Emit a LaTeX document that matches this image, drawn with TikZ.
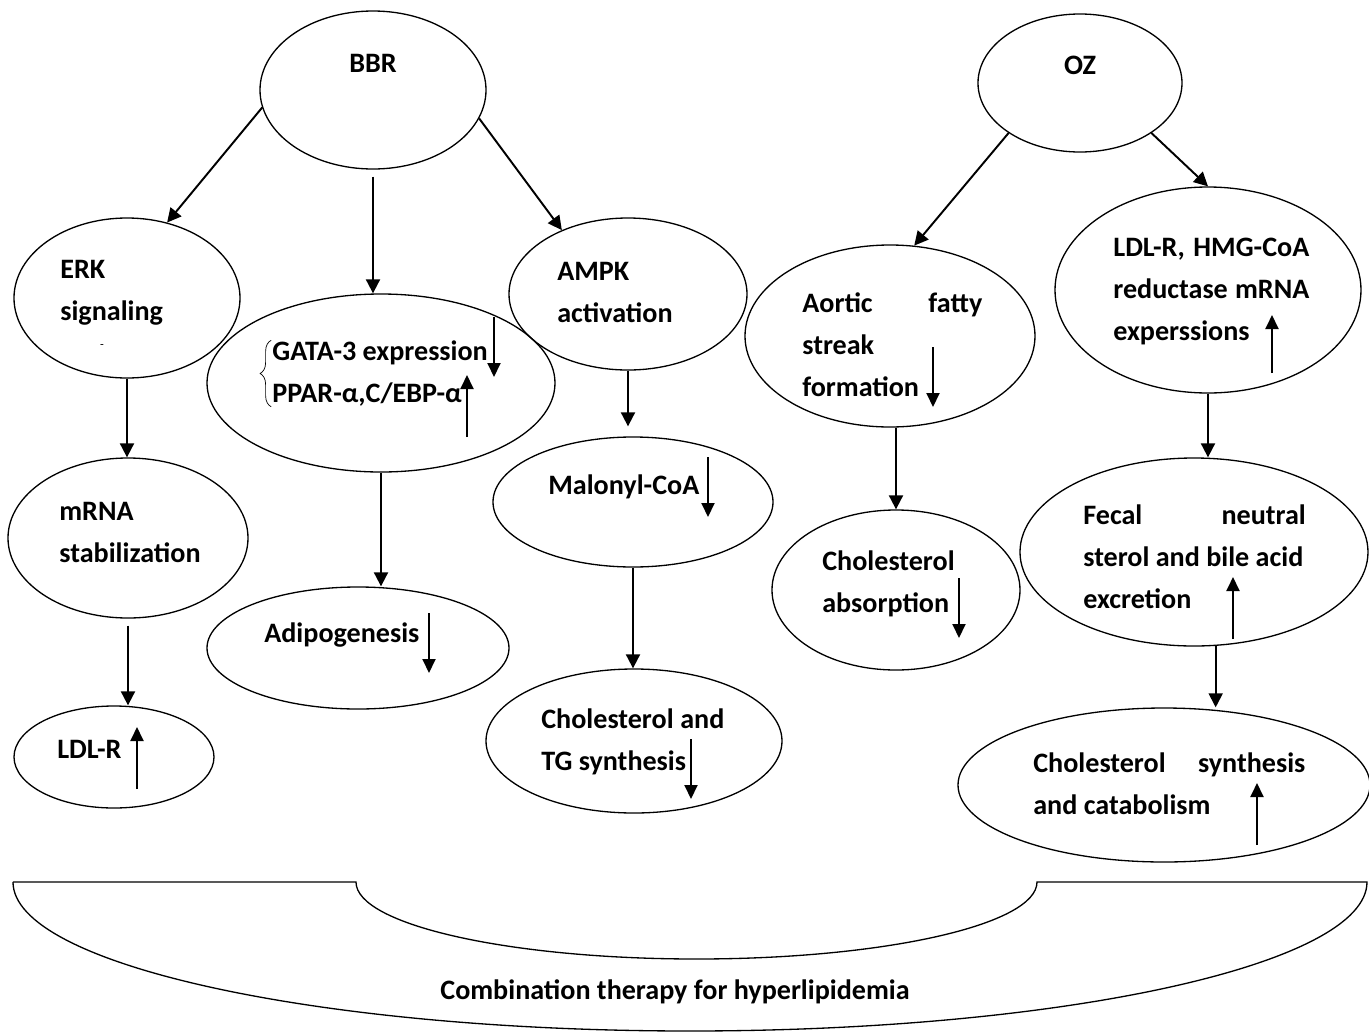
\documentclass[tikz,border=0pt]{standalone}
\usepackage{fontspec}
\setmainfont{Carlito}
\usetikzlibrary{arrows.meta,shapes.geometric,decorations.pathreplacing}
\newcommand{\spread}{\hskip 0pt plus 1filll\relax}

\begin{document}
\begin{tikzpicture}[
  font=\fontsize{16}{24}\selectfont\bfseries,
  oval/.style={draw, ellipse, line width=0.75pt, inner sep=0pt},
  txt/.style={align=flush left, inner sep=0pt, anchor=west},
  flow/.style={-{Triangle[length=2.8mm, width=2.8mm]}, line width=1.1pt},
  trend/.style={-{Triangle[length=2.8mm, width=2.6mm]}, line width=1.1pt}
]
\useasboundingbox (0,0) rectangle (27.38,-20.66);

% ellipses
\node[oval, minimum width=4.52cm, minimum height=3.16cm] (bbr) at (7.46,-1.80) {};
\node[oval, minimum width=4.08cm, minimum height=2.76cm] (oz) at (21.60,-1.66) {};
\node[oval, minimum width=4.52cm, minimum height=3.20cm] (erk) at (2.54,-5.96) {};
\node[oval, minimum width=6.96cm, minimum height=3.56cm] (gata) at (7.62,-7.66) {};
\node[oval, minimum width=4.76cm, minimum height=3.04cm] (ampk) at (12.56,-5.88) {};
\node[oval, minimum width=5.80cm, minimum height=3.64cm] (aortic) at (17.80,-6.72) {};
\node[oval, minimum width=6.12cm, minimum height=4.12cm] (hmg) at (24.16,-5.80) {};
\node[oval, minimum width=4.80cm, minimum height=3.20cm] (mrna) at (2.56,-10.76) {};
\node[oval, minimum width=5.60cm, minimum height=2.60cm] (malonyl) at (12.66,-10.04) {};
\node[oval, minimum width=4.96cm, minimum height=3.20cm] (cholabs) at (17.92,-11.80) {};
\node[oval, minimum width=6.96cm, minimum height=3.76cm] (fecal) at (23.88,-11.04) {};
\node[oval, minimum width=6.04cm, minimum height=2.44cm] (adipo) at (7.16,-12.96) {};
\node[oval, minimum width=4.00cm, minimum height=2.04cm] (ldlr) at (2.28,-15.14) {};
\node[oval, minimum width=5.92cm, minimum height=2.88cm] (choltg) at (12.68,-14.82) {};
\node[oval, minimum width=8.24cm, minimum height=3.08cm] (cholsyn) at (23.28,-15.70) {};

% texts
\node[inner sep=0pt] (bbr-t) at (7.46,-1.26) {BBR};
\node[inner sep=0pt] (oz-t) at (21.60,-1.30) {OZ};
\node[txt] (erk-t) at (1.20,-5.85) {ERK\\signaling};
\node[inner sep=0pt, font=\fontsize{7}{7}\selectfont] (erk-m) at (2.04,-6.94) {-};
\node[txt] (gata-t) at (5.44,-7.47) {GATA-3 expression\\PPAR-α,C/EBP-α};
\node[txt] (ampk-t) at (11.14,-5.85) {AMPK\\activation};
\node[txt, text width=3.60cm] (aortic-t) at (16.04,-6.90) {Aortic\spread fatty\\streak\\formation};
\node[txt, text width=3.92cm] (hmg-t) at (22.26,-5.83) {LDL-R,\spread HMG-CoA\\reductase\spread mRNA\\experssions};
\node[txt] (mrna-t) at (1.18,-10.65) {mRNA\\stabilization};
\node[txt] (malonyl-t) at (10.96,-9.74) {Malonyl-CoA};
\node[txt] (cholabs-t) at (16.44,-11.68) {Cholesterol\\absorption};
\node[txt, text width=4.45cm] (fecal-t) at (21.66,-11.13) {Fecal\spread neutral\\sterol and bile acid\\excretion};
\node[txt] (adipo-t) at (5.28,-12.70) {Adipogenesis};
\node[txt] (ldlr-t) at (1.14,-14.98) {LDL-R};
\node[txt, text width=3.66cm] (choltg-t) at (10.82,-14.83) {Cholesterol\spread and\\TG synthesis};
\node[txt, text width=5.44cm] (cholsyn-t) at (20.66,-15.68) {Cholesterol\spread synthesis\\and catabolism};
\draw[thin, decorate, decoration={brace, amplitude=0.22cm}]
  ([xshift=-0.5pt]gata-t.south west) -- ([xshift=-0.5pt]gata-t.north west);

% up / down marks
\draw[trend] (9.88,-6.34) -- ++(0,-1.20);
\draw[trend] (9.34,-8.74) -- ++(0,1.24);
\draw[trend] (18.66,-6.94) -- ++(0,-1.20);
\draw[trend] (25.44,-7.46) -- ++(0,1.16);
\draw[trend] (14.16,-9.14) -- ++(0,-1.20);
\draw[trend] (19.18,-11.56) -- ++(0,-1.20);
\draw[trend] (24.66,-12.78) -- ++(0,1.24);
\draw[trend] (8.58,-12.26) -- ++(0,-1.20);
\draw[trend] (2.74,-15.78) -- ++(0,1.24);
\draw[trend] (13.82,-14.78) -- ++(0,-1.20);
\draw[trend] (25.14,-16.90) -- ++(0,1.24);

% links
\draw[flow] (bbr.189) -- (erk.62);
\draw[flow, shorten <=0.14cm] (bbr.south) -- (bbr.south |- gata.north);
\draw[flow] (bbr.-15) -- (ampk.136);
\draw[flow] (oz.215) -- (aortic.75);
\draw[flow] (oz.-35) -- (hmg.north);
\draw[flow] (erk.south) -- (erk.south |- mrna.north);
\draw[flow, shorten <=0.14cm] (mrna.south) -- (mrna.south |- ldlr.north);
\draw[flow] (gata.south) -- (gata.south |- adipo.north);
\draw[flow, shorten >=0.2cm] (ampk.south) -- (ampk.south |- malonyl.north);
\draw[flow] (malonyl.south) -- (malonyl.south |- choltg.north);
\draw[flow] (cholabs.north |- aortic.south) -- (cholabs.north);
\draw[flow] (hmg.south) -- (hmg.south |- fecal.north);
\draw[flow] (fecal.283) -- (fecal.283 |- cholsyn.north);

% combination bracket
\draw[line width=0.75pt] (0.26,-17.64) -- (7.12,-17.64)
  arc[start angle=180, end angle=360, x radius=6.81cm, y radius=1.54cm]
  -- (27.34,-17.64)
  arc[start angle=0, end angle=-180, x radius=13.54cm, y radius=2.98cm] -- cycle;
\node[inner sep=0pt] (combo) at (13.50,-19.84) {Combination therapy for hyperlipidemia};
\end{tikzpicture}
\end{document}
